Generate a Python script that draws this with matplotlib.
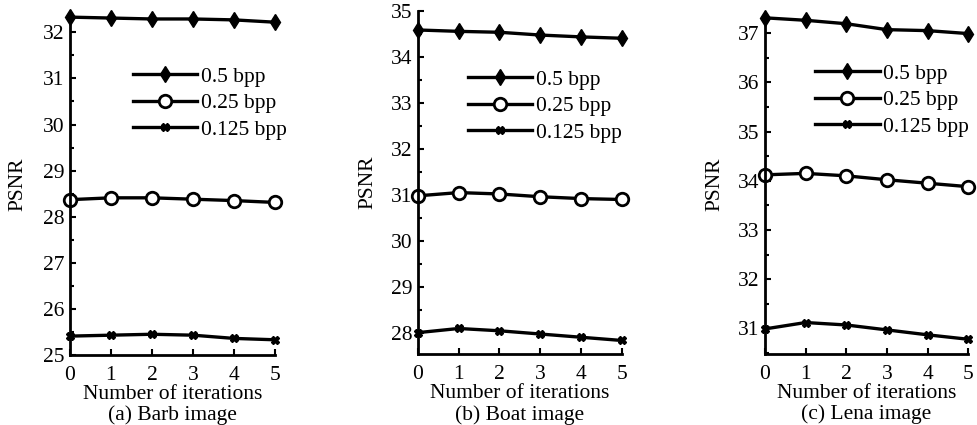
import numpy as np
import matplotlib
matplotlib.use("Agg")
import matplotlib.pyplot as plt
from matplotlib.ticker import MultipleLocator

plt.rcParams['font.family'] = ['Liberation Serif', 'DejaVu Serif']

iterations = [0, 1, 2, 3, 4, 5]
series_labels = ["0.5 bpp", "0.25 bpp", "0.125 bpp"]

# (a) Barb
barb_05 = [32.33, 32.31, 32.29, 32.29, 32.27, 32.22]
barb_025 = [28.37, 28.41, 28.41, 28.38, 28.35, 28.31]
barb_0125 = [25.41, 25.43, 25.45, 25.43, 25.36, 25.33]

# (b) Boat
boat_05 = [34.58, 34.55, 34.53, 34.47, 34.43, 34.40]
boat_025 = [30.98, 31.05, 31.02, 30.96, 30.92, 30.90]
boat_0125 = [28.01, 28.10, 28.05, 27.98, 27.91, 27.84]

# (c) Lena
lena_05 = [37.31, 37.26, 37.19, 37.07, 37.05, 36.99]
lena_025 = [34.12, 34.15, 34.10, 34.02, 33.95, 33.88]
lena_0125 = [30.99, 31.12, 31.07, 30.97, 30.87, 30.78]

panels = [
    ("(a) Barb image", [barb_05, barb_025, barb_0125], (25.0, 32.4), range(25, 33)),
    ("(b) Boat image", [boat_05, boat_025, boat_0125], (27.54, 35.0), range(28, 36)),
    ("(c) Lena image", [lena_05, lena_025, lena_0125], (30.48, 37.37), range(31, 38)),
]

# axes positions [left, bottom, width, height] in figure fraction
positions = [
    [0.0716, 0.1647, 0.2099, 0.8026],
    [0.4278, 0.1664, 0.2085, 0.8086],
    [0.7830, 0.1670, 0.2080, 0.7980],
]
legend_anchor = [(0.307, 0.845), (0.245, 0.828), (0.246, 0.856)]
ylabel_x = [-0.205, -0.197, -0.2]

styles = [
    dict(marker='d', markersize=8, markerfacecolor='black'),
    dict(marker='o', markersize=9, markerfacecolor='white', markeredgewidth=2),
    dict(marker='X', markersize=6, markerfacecolor='black'),
]

fig = plt.figure(figsize=(9.77, 4.25), dpi=100)
fs = 15.5

for i, ((caption, data, ylim, yticks), pos) in enumerate(zip(panels, positions)):
    ax = fig.add_axes(pos)
    for vals, lab, st in zip(data, series_labels, styles):
        ax.plot(iterations, vals, color='black', linewidth=2.4,
                markeredgecolor='black', label=lab, clip_on=False, **st)
    ax.set_xlim(0, 5)
    ax.set_ylim(*ylim)
    ax.set_xticks(iterations)
    ax.set_yticks(list(yticks))
    ax.yaxis.set_minor_locator(MultipleLocator(0.5))
    ax.spines['top'].set_visible(False)
    ax.spines['right'].set_visible(False)
    ax.spines['left'].set_linewidth(2)
    ax.spines['bottom'].set_linewidth(2)
    ax.tick_params(direction='in', which='both', width=1.5, labelsize=fs)
    ax.tick_params(axis='x', pad=8)
    ax.tick_params(axis='y', pad=4)
    ax.tick_params(which='major', length=4)
    ax.tick_params(which='minor', length=3)
    ax.set_xlabel("Number of iterations\n" + caption, fontsize=fs, labelpad=0,
                  linespacing=1.1)
    ax.set_ylabel("PSNR", fontsize=fs)
    ax.yaxis.set_label_coords(ylabel_x[i], 0.5)
    ax.legend(loc='upper left', bbox_to_anchor=legend_anchor[i], frameon=False,
              fontsize=fs, handlelength=3.0, handletextpad=0.15,
              labelspacing=0.3, borderaxespad=0, borderpad=0)

fig.savefig("out.png", dpi=100)
